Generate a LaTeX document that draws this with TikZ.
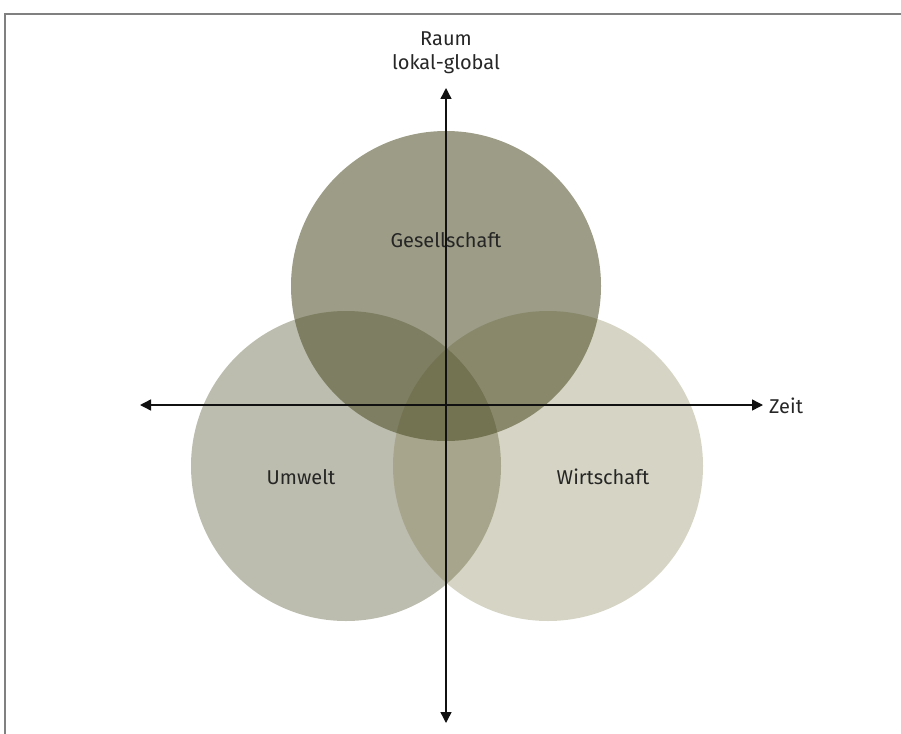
\documentclass[tikz,border=0pt]{standalone}
\usepackage{fontspec}
\setmainfont{Fira Sans}
\usetikzlibrary{arrows.meta}
\definecolor{vennC}{RGB}{70,70,30}
\definecolor{wirC}{RGB}{118,115,62}
\definecolor{frameC}{HTML}{808080}
\definecolor{axisC}{HTML}{111111}
\tikzset{
  venn/.style={circle, minimum size=310pt, inner sep=0pt, draw=none, fill=vennC},
  lbl/.style={font=\fontsize{20}{24}\selectfont, text=black!85, inner sep=0pt, align=center},
  axis/.style={draw=axisC, line width=1.4pt, -{Triangle[length=11pt,width=11pt]}}
}
\begin{document}
\begin{tikzpicture}[x=1pt,y=-1pt]
\useasboundingbox (0,0) rectangle (901,733);
\draw[frameC, line width=2pt] (5,740) -- (5,14) -- (910,14);
\node[venn, fill opacity=0.357] (umw) at (346,466) {};
\node[venn, fill=wirC, fill opacity=0.3] (wir) at (548,466) {};
\node[venn, fill opacity=0.535] (ges) at (446,286) {};
\coordinate (o) at (446,405);
\coordinate (top) at (446,88);
\coordinate (bot) at (446,723);
\coordinate (lft) at (140,405);
\coordinate (rgt) at (763,405);
\draw[axis] (o) -- (top);
\draw[axis] (o) -- (bot);
\draw[axis] (o) -- (lft);
\draw[axis] (o) -- (rgt);
\node[lbl, anchor=south] (raum) at (446,74) {Raum\\lokal-global};
\node[lbl, anchor=west] (zeit) at (769,406) {Zeit};
\node[lbl] (gesl) at (446,240) {Gesellschaft};
\node[lbl] (umwl) at (301,477) {Umwelt};
\node[lbl] (wirl) at (603,477) {Wirtschaft};
\end{tikzpicture}
\end{document}
